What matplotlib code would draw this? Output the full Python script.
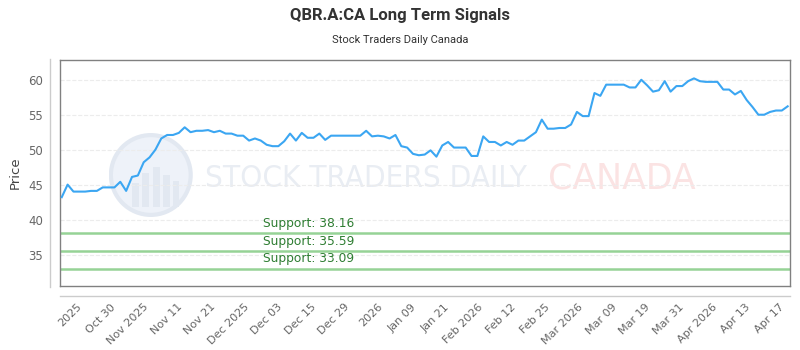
import numpy as np
import matplotlib
matplotlib.use("Agg")
import matplotlib.pyplot as plt
from matplotlib.lines import Line2D
from matplotlib.patches import Circle, Rectangle

# closing prices
prices = [
    43.3, 45.1, 44.1, 44.1, 44.1, 44.2, 44.2, 44.7, 44.7, 44.7,
    45.5, 44.2, 46.2, 46.4, 48.3, 49.0, 50.1, 51.7, 52.2, 52.2,
    52.5, 53.3, 52.6, 52.8, 52.8, 52.9, 52.6, 52.8, 52.4, 52.4,
    52.1, 52.1, 51.4, 51.7, 51.4, 50.8, 50.6, 50.6, 51.3, 52.4,
    51.4, 52.5, 51.8, 51.8, 52.4, 51.5, 52.1, 52.1, 52.1, 52.1,
    52.1, 52.1, 52.8, 52.0, 52.1, 52.0, 51.7, 52.2, 50.6, 50.4,
    49.5, 49.3, 49.4, 50.0, 49.1, 50.7, 51.2, 50.4, 50.4, 50.4,
    49.2, 49.2, 52.0, 51.2, 51.2, 50.7, 51.2, 50.8, 51.4, 51.4,
    52.0, 52.6, 54.4, 53.1, 53.1, 53.2, 53.2, 53.7, 55.5, 54.9,
    54.9, 58.2, 57.8, 59.4, 59.4, 59.4, 59.4, 59.0, 59.0, 60.1,
    59.3, 58.4, 58.6, 59.9, 58.4, 59.2, 59.2, 59.9, 60.3, 59.9,
    59.8, 59.8, 59.8, 58.7, 58.7, 58.0, 58.5, 57.2, 56.2, 55.1,
    55.1, 55.5, 55.7, 55.7, 56.3,
]

tick_labels = [
    "2025", "Oct 30", "Nov 2025", "Nov 11", "Nov 21", "Dec 2025", "Dec 03",
    "Dec 15", "Dec 29", "2026", "Jan 09", "Jan 21", "Feb 2026", "Feb 12",
    "Feb 25", "Mar 2026", "Mar 09", "Mar 19", "Mar 31", "Apr 2026",
    "Apr 13", "Apr 17",
]

supports = [38.16, 35.59, 33.09]

x = np.arange(len(prices))

fig = plt.figure(figsize=(8, 3.5), dpi=100)

# watermark logo, behind the chart
wm_ax = fig.add_axes([0.136, 0.38, 0.105, 0.24])
wm_ax.set_xlim(-1, 1)
wm_ax.set_ylim(-1, 1)
wm_ax.set_aspect("equal")
wm_ax.axis("off")
wm_ax.add_patch(Circle((0, 0), 0.95, facecolor="#eef2f9", edgecolor="#e2e8f1", lw=3))
for bx, bh in [(-0.45, 0.55), (-0.2, 0.8), (0.05, 0.95), (0.3, 0.75), (0.52, 0.6)]:
    wm_ax.add_patch(Rectangle((bx, -0.75), 0.16, bh, facecolor="#e2e8f1", edgecolor="none"))
fig.text(0.457, 0.49, "STOCK TRADERS DAILY", ha="center", va="center",
         fontsize=22.5, color="#e9edf3", zorder=-1, fontstretch="condensed")
fig.text(0.777, 0.49, "CANADA", ha="center", va="center",
         fontsize=25, color="#fbe3e3", zorder=-1)

ax = fig.add_axes([0.075, 0.183, 0.9125, 0.647])
ax.patch.set_alpha(0)
ax.plot(x, prices, color="#3ba6f2", lw=1.5, zorder=3)

for s in supports:
    ax.axhline(s, color="#96d396", lw=1.8, zorder=2)
    ax.annotate(f"Support: {s:.2f}", xy=(34.4, s), xytext=(0, 7),
                textcoords="offset points", ha="left", va="center",
                fontsize=8.8, color="#2e7d32")

ax.set_xlim(-0.3, len(prices) - 0.6)
ax.set_ylim(30.6, 63)
ax.set_yticks([35, 40, 45, 50, 55, 60])
ax.grid(axis="y", color="#ececec", ls="--", lw=0.8)
ax.set_axisbelow(True)

tick_pos = np.linspace(3.15, 123.05, len(tick_labels))
ax.set_xticks(tick_pos)
ax.set_xticklabels(tick_labels, rotation=45, ha="right", va="center",
                   rotation_mode="anchor")
ax.tick_params(axis="x", length=0, pad=14, labelsize=8, labelcolor="#666666")
ax.tick_params(axis="y", length=0, pad=12, labelsize=8.5, labelcolor="#666666")

for sp in ax.spines.values():
    sp.set_color("#808080")
    sp.set_linewidth(1)

ax.set_ylabel("Price", fontsize=9.5, color="#444444", labelpad=5)

# outer axis lines
fig.add_artist(Line2D([50 / 800, 50 / 800], [1 - 59 / 350, 1 - 287 / 350],
                      color="#cccccc", lw=1))
fig.add_artist(Line2D([60 / 800, 790 / 800], [1 - 296 / 350, 1 - 296 / 350],
                      color="#cccccc", lw=1))

fig.text(0.5, 0.955, "QBR.A:CA Long Term Signals", ha="center", va="center",
         fontsize=12, fontweight="bold", color="#333333", family="Roboto")
fig.text(0.5, 0.885, "Stock Traders Daily Canada", ha="center", va="center",
         fontsize=8, color="#333333", family="Roboto")

fig.savefig("out.png", dpi=100)
